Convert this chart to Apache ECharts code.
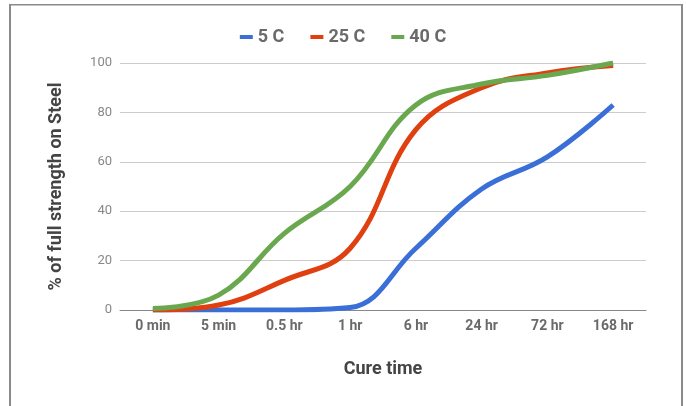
<!DOCTYPE html>
<html><head><meta charset="utf-8">
<script src="https://cdn.jsdelivr.net/npm/echarts@6/dist/echarts.min.js"></script>
<style>html,body{margin:0;padding:0;background:#fff}#c{width:686px;height:406px}</style>
</head><body><div id="c"></div>
<script>
const categories = ['0 min','5 min','0.5 hr','1 hr','6 hr','24 hr','72 hr','168 hr'];
const s5C  = [0, 0, 0, 1, 25, 49, 62, 83];
const s25C = [0, 2, 12, 25, 73, 90, 96, 99];
const s40C = [0.6, 6, 31, 50, 83, 91.5, 95, 100];
const yTicks = [0, 20, 40, 60, 80, 100];

const chart = echarts.init(document.getElementById('c'));
const font = 'Roboto, "Noto Sans", sans-serif';
chart.setOption({
  animation: false,
  textStyle: { fontFamily: font },
  graphic: [
    { type: 'rect', shape: { x: 9, y: 4, width: 2, height: 402 }, style: { fill: '#8a8a8a' } },
    { type: 'rect', shape: { x: 9, y: 4, width: 674, height: 1.5 }, style: { fill: '#8a8a8a' } },
    { type: 'rect', shape: { x: 681, y: 4, width: 2, height: 402 }, style: { fill: '#8a8a8a' } }
  ],
  legend: {
    top: 23, left: 'center', itemGap: 26,
    icon: 'rect', itemWidth: 13, itemHeight: 4,
    textStyle: { fontSize: 18, fontWeight: 'bold', color: '#6a6a6a', fontFamily: font }
  },
  grid: { left: 120, right: 40, top: 63, bottom: 96 },
  xAxis: {
    type: 'category', data: categories, boundaryGap: true,
    name: 'Cure time', nameLocation: 'middle', nameGap: 50,
    nameTextStyle: { fontSize: 18, fontWeight: 'bold', color: '#444' },
    axisLine: { lineStyle: { color: '#888', width: 1 } },
    axisTick: { show: false },
    axisLabel: { fontSize: 14, fontWeight: 'bold', color: '#6a6a6a', margin: 9 }
  },
  yAxis: {
    type: 'value', min: yTicks[0], max: yTicks[yTicks.length-1], interval: 20,
    name: '% of full strength on Steel', nameLocation: 'middle', nameGap: 55,
    nameTextStyle: { fontSize: 18, fontWeight: 'bold', color: '#444' },
    axisLine: { show: false }, axisTick: { show: false },
    axisLabel: { fontSize: 13, color: '#888', margin: 8 },
    splitLine: { lineStyle: { color: '#cccccc' } }
  },
  series: [
    { name: '5 C', type: 'line', data: s5C, smooth: 0.4, showSymbol: false,
      lineStyle: { width: 5, color: '#3a6fd8' }, itemStyle: { color: '#3a6fd8' } },
    { name: '25 C', type: 'line', data: s25C, smooth: 0.4, showSymbol: false,
      lineStyle: { width: 5, color: '#e0400f' }, itemStyle: { color: '#e0400f' } },
    { name: '40 C', type: 'line', data: s40C, smooth: 0.4, showSymbol: false,
      lineStyle: { width: 5, color: '#6aa84f' }, itemStyle: { color: '#6aa84f' } }
  ]
});
</script></body></html>
